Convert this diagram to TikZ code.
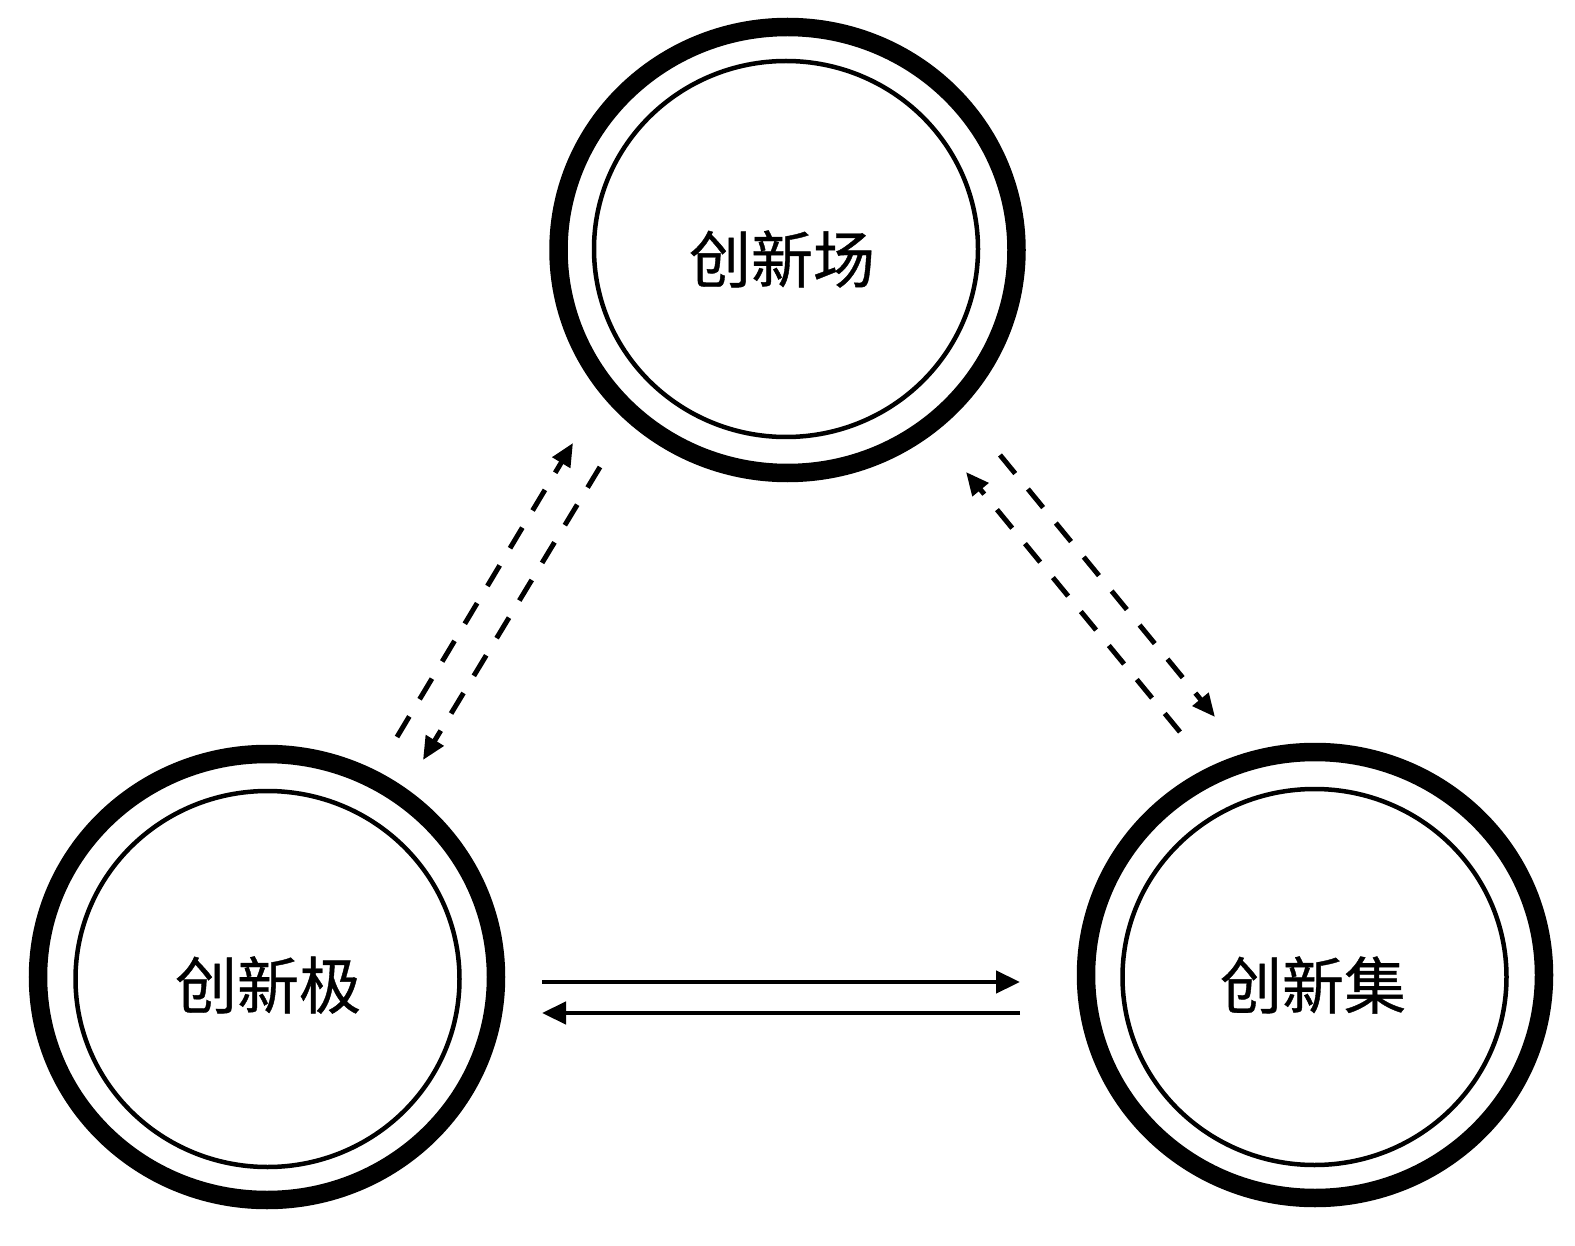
\documentclass[tikz,border=0pt]{standalone}
\usepackage{fontspec}
\newfontfamily\cjk[FakeBold=0.6]{Noto Sans CJK SC}
\usetikzlibrary{arrows.meta,shapes.geometric}
\begin{document}
\begin{tikzpicture}[x=1pt,y=-1pt,
  outerring/.style={ellipse, draw, line width=18.5pt, minimum width=458pt, minimum height=446pt, inner sep=0pt},
  innerring/.style={ellipse, draw, line width=4.5pt, minimum width=384pt, minimum height=376pt, inner sep=0pt},
  lab/.style={font={\cjk\fontsize{62}{62}\selectfont}, inner sep=0pt},
  solidarrow/.style={line width=4.5pt, -{Triangle[length=24pt,width=22pt]}},
  dasharrow/.style={line width=5pt, dash pattern=on 24pt off 20pt, -{Triangle[length=23pt,width=20pt]}}]
\useasboundingbox (0,0) rectangle (1575,1246);
% circles
\node[outerring] (topo) at (787.5,250) {};
\node[innerring] (topi) at (786,249) {};
\node[lab] (toplab) at (782,259) {创新场};
\node[outerring] (lefto) at (267,977) {};
\node[innerring] (lefti) at (267.5,979) {};
\node[lab] (leftlab) at (268,985) {创新极};
\node[outerring] (righto) at (1315,975) {};
\node[innerring] (righti) at (1314.5,977) {};
\node[lab] (rightlab) at (1313,985) {创新集};
% arrow end points
\coordinate (h1s) at (542,982);
\coordinate (h1e) at (1020,982);
\coordinate (h2s) at (1020,1013);
\coordinate (h2e) at (542,1013);
\coordinate (l1s) at (397,737);
\coordinate (l1e) at (573,443);
\coordinate (l2s) at (600,467);
\coordinate (l2e) at (423,760);
\coordinate (r1s) at (1180,732);
\coordinate (r1e) at (966,472);
\coordinate (r2s) at (1000,455);
\coordinate (r2e) at (1215,717);
% connectors
\draw[solidarrow] (h1s) -- (h1e);
\draw[solidarrow] (h2s) -- (h2e);
\draw[dasharrow] (l1s) -- (l1e);
\draw[dasharrow] (l2s) -- (l2e);
\draw[dasharrow] (r1s) -- (r1e);
\draw[dasharrow] (r2s) -- (r2e);
\end{tikzpicture}
\end{document}
